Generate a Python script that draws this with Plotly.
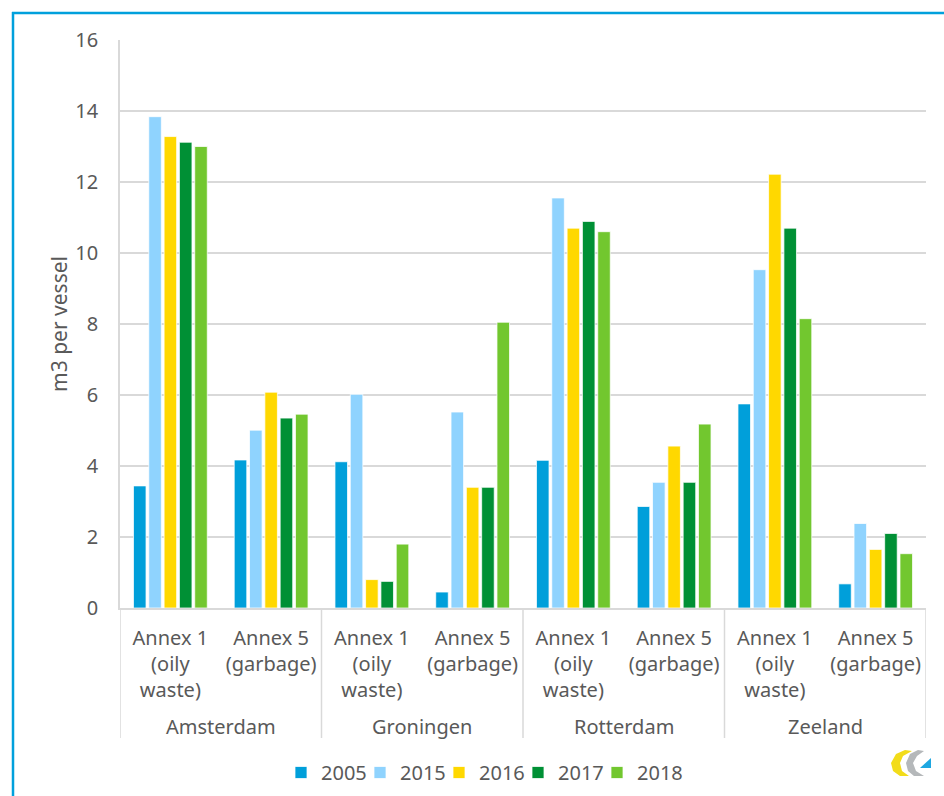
import plotly.graph_objects as go

cities = ["Amsterdam", "Groningen", "Rotterdam", "Zeeland"]
annexes = ["Annex 1<br>(oily<br>waste)", "Annex 5<br>(garbage)"]
years = ["2005", "2015", "2016", "2017", "2018"]

# values ordered: Ams A1, Ams A5, Gro A1, Gro A5, Rot A1, Rot A5, Zee A1, Zee A5
v2005 = [3.44, 4.17, 4.12, 0.45, 4.16, 2.86, 5.75, 0.68]
v2015 = [13.84, 5.01, 6.02, 5.52, 11.55, 3.54, 9.53, 2.38]
v2016 = [13.28, 6.08, 0.80, 3.40, 10.70, 4.56, 12.22, 1.65]
v2017 = [13.12, 5.35, 0.75, 3.40, 10.89, 3.54, 10.70, 2.10]
v2018 = [13.00, 5.46, 1.80, 8.05, 10.60, 5.18, 8.15, 1.53]

colors = ["#009FDA", "#8FD3FE", "#FFD800", "#009035", "#72C72F"]
series = [v2005, v2015, v2016, v2017, v2018]

n_sub = len(annexes)
pos = list(range(len(cities) * n_sub))
sub_labels = [a for _ in cities for a in annexes]

FONT = "Noto Sans"
TXT = "#595959"
FS = 20
GRID = "#D9D9D9"

fig = go.Figure()
for name, vals, col in zip(years, series, colors):
    fig.add_trace(go.Bar(
        x=pos, y=vals, name=name,
        marker=dict(color=col, line=dict(color="white", width=0.75)),
    ))
# invisible spacer entry so the last legend label is not clipped
fig.add_trace(go.Scatter(x=[None], y=[None], mode="lines", name=" ",
                         line=dict(color="rgba(0,0,0,0)", width=0),
                         showlegend=True, hoverinfo="skip"))

W, H = 944, 796
L, R, T, B = 120, 18, 40, 188
pw, ph = W - L - R, H - T - B

def px(x):
    return (x - L) / pw

def py(y):
    return (H - B - y) / ph

shapes = [
    dict(type="line", xref="paper", yref="paper", x0=px(12), x1=px(960), y0=py(13), y1=py(13),
         line=dict(color="#00A0DC", width=2.5)),
    dict(type="line", xref="paper", yref="paper", x0=px(13), x1=px(13), y0=py(12), y1=py(810),
         line=dict(color="#00A0DC", width=2.5)),
]
# group dividers below the axis
for k in range(len(cities) + 1):
    xb = k * n_sub - 0.5
    shapes.append(dict(type="line", xref="x", yref="paper", x0=xb, x1=xb, y0=0, y1=py(738),
                       line=dict(color=GRID, width=1.5)))

def pth(points):
    return "M " + " L ".join(f"{px(a):.5f},{py(b):.5f}" for a, b in points) + " Z"

# small logo at the lower right
shapes.append(dict(type="path", xref="paper", yref="paper",
                   path=pth([(905, 750), (896, 754), (891, 763), (893, 771), (900, 776), (909, 776),
                             (902, 771), (900, 763), (903, 756), (912, 751)]),
                   fillcolor="#F2DC1A", line=dict(width=0)))
shapes.append(dict(type="path", xref="paper", yref="paper",
                   path=pth([(918, 750), (910, 754), (906, 763), (908, 771), (914, 776), (924, 776),
                             (916, 771), (913, 763), (917, 756), (924, 751)]),
                   fillcolor="#B5B8BA", line=dict(width=0)))
shapes.append(dict(type="path", xref="paper", yref="paper",
                   path=pth([(920, 768), (931, 758), (931, 768)]),
                   fillcolor="#1EA7E1", line=dict(width=0)))

annotations = []
for i, c in enumerate(cities):
    annotations.append(dict(text=c, x=i * n_sub + (n_sub - 1) / 2, xref="x", y=py(726), yref="paper",
                            showarrow=False, xanchor="center", yanchor="middle",
                            font=dict(family=FONT, size=FS, color=TXT)))

fig.update_layout(
    width=W, height=H,
    margin=dict(l=L, r=R, t=T, b=B, pad=0, autoexpand=False),
    paper_bgcolor="white", plot_bgcolor="white",
    barmode="group", bargap=0.24, bargroupgap=0.18,
    font=dict(family=FONT, size=FS, color=TXT),
    showlegend=True,
    legend=dict(orientation="h", x=px(281), xanchor="left", y=py(753), yanchor="top",
                font=dict(family=FONT, size=FS, color=TXT), itemwidth=30,
                entrywidth=34, entrywidthmode="pixels", tracegroupgap=0),
    shapes=shapes,
    annotations=annotations,
    xaxis=dict(range=[-0.5, len(pos) - 0.5], tickmode="array", tickvals=pos, ticktext=sub_labels,
               showline=True, linecolor=GRID, linewidth=1.5, showgrid=False, zeroline=False,
               tickfont=dict(family=FONT, size=FS, color=TXT),
               automargin=False, ticklabelstandoff=11, tickangle=0, ticks=""),
    yaxis=dict(range=[0, 16], dtick=2, showgrid=True, gridcolor=GRID, gridwidth=1.5,
               showline=True, linecolor=GRID, linewidth=1.5, zeroline=False,
               automargin=False,
               ticklabelstandoff=16, tickfont=dict(family=FONT, size=FS, color=TXT),
               title=dict(text="m3 per vessel", font=dict(family=FONT, size=21, color=TXT),
                          standoff=2)),
)

fig.write_html("out.html")
